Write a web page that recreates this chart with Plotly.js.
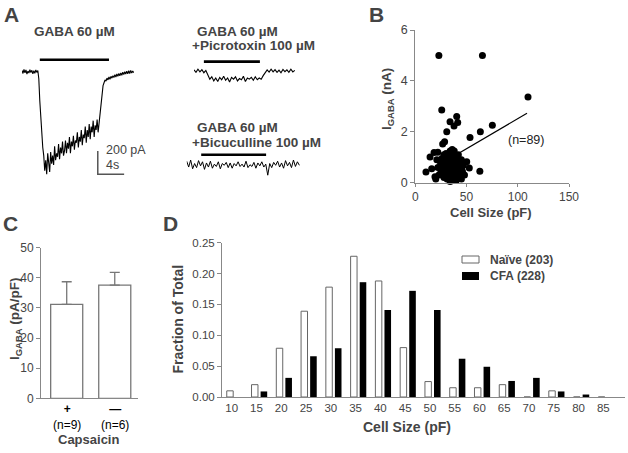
<!DOCTYPE html>
<html><head><meta charset="utf-8">
<script src="https://cdn.plot.ly/plotly-3.0.1.min.js"></script>
<style>html,body{margin:0;padding:0;background:#fff}#chart{width:628px;height:453px}</style>
</head><body><div id="chart"></div>
<script>
// ---------- DATA ----------
// Panel A: current traces (pA), sampled at fixed time steps (s)
const gabaDt = 0.15;
const gabaTrace = [10,-15,20,-10,15,-20,5,-12,18,-8,12,-18,8,-14,16,-6,10,
  -60,-250,-420,-560,-650,
  -720,-850,-760,-880,-700,-820,-860,-690,-790,-720,-800,-640,-760,-700,-730,-620,-750,-650,-700,-600,
  -720,-680,-590,-700,-610,-660,-560,-700,-600,-640,-550,-670,-590,-610,-520,-650,-560,-600,-500,-630,
  -540,-570,-470,-610,-500,-560,-450,-580,-470,-520,-420,-560,-460,-500,-410,-520,-430,
  -330,-240,-170,-120,-95,-70,-80,-55,-70,-45,-65,-40,-55,-35,-50,-25,-45,-20,-40,-15,-35,-10,-30,-5,-25,0,-20,5,-18,8,-15,10,-12,5,-8];
const picroDt = 0.3;
const picroTrace = [10,-12,15,-8,12,-15,5,-40,-70,
  -50,-85,-60,-90,-55,-75,-45,-80,-60,-95,-55,-70,-50,-85,-65,-75,-45,-90,-60,-70,-55,-80,-50,-75,-60,-70,
  -40,-15,10,-10,15,-8,12,-12,8,-15,14,-6,10,-12,15,-8,5];
const bicuDt = 0.3;
const bicuTrace = [30,-20,40,-35,10,-25,35,-10,25,-40,15,-20,30,-30,5,-15,25,-35,10,-5,20,-25,15,-30,10,-10,25,-15,5,-20,30,-25,0,-15,20,-30,15,-10,25,-20,5,-90,10,-25,20,-5,30,-20,15,-30,35,-10,20,-25,40,-15,25,-5];
const gabaOn  = [2.7, 1.5, 2.2];   // application start (s) for the three recordings
const gabaOff = [13.2, 10.0, 12.05];
const scaleBarPA = 200, scaleBarS = 4;

// Panel B: cell size (pF) vs I_GABA (nA)
const cellSize = [23,65.5,110,25.8,40.4,33.9,41.4,37.8,30.7,75.2,63.5,53.4,28.6,26.7,63,18.3,14.4,10.4,19.2,50.2,52.7,
  20,22,22,24,25,26,26,27,28,28,29,30,30,31,31,32,32,33,33,34,34,35,35,35,36,36,36,37,37,38,38,38,39,39,40,40,41,41,42,42,43,43,44,45,45,46,47,48,
  34,30,23,27,37,40,33,36,44,29,39,35,31,42,38,46,25,21,16,36];
const iGaba = [5.0,5.0,3.37,2.86,2.6,2.39,2.37,2.23,2.0,2.26,2.0,1.78,1.61,1.52,0.45,1.19,1.01,0.42,0.23,0.82,0.58,
  0.15,0.6,1.2,0.85,0.4,0.3,0.95,0.7,0.2,1.1,0.5,0.8,0.35,0.15,0.6,1.0,0.4,0.25,0.75,1.25,0.55,0.1,0.9,0.45,0.3,0.7,1.1,0.2,0.55,0.85,0.35,1.25,0.6,0.15,0.95,0.4,0.7,0.25,1.1,0.5,0.8,0.3,0.6,0.15,0.9,0.45,0.7,0.3,
  0.05,1.15,0.3,0.5,0.95,0.1,0.65,0.5,0.35,0.9,1.05,0.3,0.85,0.2,0.5,0.65,0.7,0.9,0.55,1.3];
const fitX = [15, 109];
const fitY = [0.51, 2.73];
const nLabelB = "(n=89)";

// Panel C
const capsLabels = ["+", "—"];
const capsN = ["(n=9)", "(n=6)"];
const capsMean = [31.2, 37.6];
const capsSEM = [7.5, 4.2];

// Panel D
const sizeBins = [10,15,20,25,30,35,40,45,50,55,60,65,70,75,80,85];
const naive = [0.010,0.020,0.079,0.139,0.178,0.228,0.188,0.080,0.025,0.015,0.015,0.020,0,0.010,0,0];
const cfa   = [0,0.009,0.031,0.066,0.079,0.186,0.141,0.172,0.141,0.062,0.049,0.026,0.031,0.009,0.004,0];
const seriesNames = ["Naïve (203)", "CFA (228)"];

// ---------- LAYOUT HELPERS ----------
const W = 628, H = 453;
const dx = (a, b) => [a / W, b / W];
const dy = (t, b) => [1 - b / H, 1 - t / H];
const FONT = 'Arial, "Liberation Sans", sans-serif';
const AX = '#888', TICK = '#444';
const times = (arr, dt) => arr.map((_, i) => +(i * dt).toFixed(3));

const baseAxis = {showgrid:false, zeroline:false, showline:true, linecolor:AX, linewidth:1,
  ticks:'outside', ticklen:4, tickcolor:AX, tickfont:{family:FONT, size:12, color:TICK}, fixedrange:true};
const hidden = {visible:false, showgrid:false, zeroline:false, fixedrange:true};

const traces = [];
// Panel A traces
traces.push({x:times(gabaTrace,gabaDt), y:gabaTrace, xaxis:'x4', yaxis:'y4', mode:'lines', line:{color:'#000', width:1.1}, hoverinfo:'skip'});
traces.push({x:times(picroTrace,picroDt), y:picroTrace, xaxis:'x5', yaxis:'y5', mode:'lines', line:{color:'#000', width:1.1}, hoverinfo:'skip'});
traces.push({x:times(bicuTrace,bicuDt), y:bicuTrace, xaxis:'x6', yaxis:'y6', mode:'lines', line:{color:'#000', width:1}, hoverinfo:'skip'});
// scale bar (drawn in trace-1 units)
const sbT0 = 11.5, sbI0 = -880;
traces.push({x:[sbT0, sbT0, sbT0 + scaleBarS], y:[sbI0 + scaleBarPA, sbI0, sbI0], xaxis:'x4', yaxis:'y4', mode:'lines', line:{color:'#555', width:1.5}, hoverinfo:'skip'});

// Panel B
traces.push({x:cellSize, y:iGaba, xaxis:'x', yaxis:'y', mode:'markers', marker:{color:'#000', size:7}, cliponaxis:false});
traces.push({x:fitX, y:fitY, xaxis:'x', yaxis:'y', mode:'lines', line:{color:'#000', width:1.2}});

// Panel C
traces.push({type:'bar', x:[0,1], y:capsMean, xaxis:'x2', yaxis:'y2', width:0.667,
  marker:{color:'#fff', line:{color:'#777', width:1.3}},
  error_y:{type:'data', symmetric:false, array:capsSEM, arrayminus:[0,0], color:'#777', thickness:1.3, width:5}});

// Panel D
traces.push({type:'bar', name:seriesNames[0], x:sizeBins, y:naive, xaxis:'x3', yaxis:'y3', width:1.3, offset:-1.0,
  marker:{color:'#fff', line:{color:'#666', width:1}}});
traces.push({type:'bar', name:seriesNames[1], x:sizeBins, y:cfa, xaxis:'x3', yaxis:'y3', width:1.33, offset:0.83,
  marker:{color:'#000', line:{color:'#000', width:0}}});

const ann = (text, x, y, o = {}) => Object.assign({text, x:x / W, y:1 - y / H, xref:'paper', yref:'paper', showarrow:false,
  xanchor:'center', yanchor:'middle', font:{family:FONT, size:12, color:'#000'}}, o);
const bold = (s) => '<b>' + s + '</b>';

const annotations = [
  ann(bold('A'), 11, 15, {font:{family:FONT, size:21}}),
  ann(bold('B'), 376, 15, {font:{family:FONT, size:21}}),
  ann(bold('C'), 10, 223, {font:{family:FONT, size:21}}),
  ann(bold('D'), 170, 223, {font:{family:FONT, size:21}}),
  ann(bold('GABA 60 µM'), 74, 31, {font:{family:FONT, size:13.5}}),
  ann(bold('GABA 60 µM'), 195, 31, {xanchor:'left', font:{family:FONT, size:13.5}}),
  ann(bold('+Picrotoxin 100 µM'), 190, 46, {xanchor:'left', font:{family:FONT, size:13.5}}),
  ann(bold('GABA 60 µM'), 195, 127, {xanchor:'left', font:{family:FONT, size:13.5}}),
  ann(bold('+Bicuculline 100 µM'), 190, 142, {xanchor:'left', font:{family:FONT, size:13.5}}),
  ann(scaleBarPA + ' pA', 104, 150, {xanchor:'left', font:{family:FONT, size:12.5, color:'#444'}}),
  ann(scaleBarS + 's', 104, 165, {xanchor:'left', font:{family:FONT, size:12.5, color:'#444'}}),
  // B titles
  ann(bold('I<sub>GABA</sub> (nA)'), 387, 99, {textangle:-90, font:{family:FONT, size:13.5}}),
  ann(bold('Cell Size (pF)'), 491, 212.5, {font:{family:FONT, size:13}}),
  ann(nLabelB, 526, 140, {font:{family:FONT, size:12.5, color:'#222'}}),
  // C titles
  ann(bold('I<sub>GABA</sub> (pA/pF)'), 15, 319, {textangle:-90, font:{family:FONT, size:13.5}}),
  ann(bold('Capsaicin'), 88, 439, {font:{family:FONT, size:13}}),
  // D titles & legend
  ann(bold('Fraction of Total'), 177, 319.5, {textangle:-90, font:{family:FONT, size:14}}),
  ann(bold('Cell Size (pF)'), 407, 427, {font:{family:FONT, size:14}}),
  ann(bold(seriesNames[0]), 488, 259.5, {xanchor:'left', font:{family:FONT, size:12}}),
  ann(bold(seriesNames[1]), 488, 276, {xanchor:'left', font:{family:FONT, size:12}})
];
// category labels (sign + n) under C bars, one text block per category
capsN.forEach((t, i) => annotations.push({text:'<b>' + capsLabels[i] + '</b><br>' + t, x:i, xref:'x2', y:1 - 401 / H, yref:'paper',
  showarrow:false, xanchor:'center', yanchor:'top', align:'center', borderpad:0, font:{family:FONT, size:12, color:'#000'}}));

const shapes = [];
// GABA application bars
const barLevels = [103, 80, 86];
['4','5','6'].forEach((k, i) => shapes.push({type:'line', xref:'x' + k, yref:'y' + k, x0:gabaOn[i], x1:gabaOff[i],
  y0:barLevels[i], y1:barLevels[i], line:{color:'#000', width:2.6}}));
// legend swatches
shapes.push({type:'rect', xref:'paper', yref:'paper', x0:462 / W, x1:479 / W, y0:1 - 263 / H, y1:1 - 256 / H, fillcolor:'#fff', line:{color:'#666', width:1}});
shapes.push({type:'rect', xref:'paper', yref:'paper', x0:462 / W, x1:479 / W, y0:1 - 280 / H, y1:1 - 272 / H, fillcolor:'#000', line:{color:'#000', width:0}});

const layout = {
  width:W, height:H, margin:{l:0, r:0, t:0, b:0}, paper_bgcolor:'#fff', plot_bgcolor:'rgba(0,0,0,0)',
  showlegend:false, barmode:'overlay', font:{family:FONT},
  // B
  xaxis:Object.assign({}, baseAxis, {domain:dx(415.3, 569), anchor:'y', range:[0,150], tickvals:[0,50,100,150], ticklen:3,
    tickfont:{family:FONT, size:12, color:TICK}}),
  yaxis:Object.assign({}, baseAxis, {domain:dy(30, 182.7), anchor:'x', range:[0,6], tickvals:[0,2,4,6], tickfont:{family:FONT, size:12.5, color:TICK}}),
  // C
  xaxis2:Object.assign({}, baseAxis, {domain:dx(41, 138.3), anchor:'y2', range:[-0.535, 1.49], ticks:'', showticklabels:false}),
  yaxis2:Object.assign({}, baseAxis, {domain:dy(247.7, 398.3), anchor:'x2', range:[0,50], tickvals:[0,10,20,30,40,50]}),
  // D
  xaxis3:Object.assign({}, baseAxis, {domain:dx(222, 625), anchor:'y3', range:[8.04, 89.38], ticks:'', tickvals:sizeBins,
    tickfont:{family:FONT, size:11.5, color:TICK}}),
  yaxis3:Object.assign({}, baseAxis, {domain:dy(242.7, 397), anchor:'x3', range:[0,0.25], tickvals:[0,0.05,0.1,0.15,0.2,0.25],
    tickformat:'.2f', tickfont:{family:FONT, size:11.5, color:TICK}}),
  // A traces
  xaxis4:Object.assign({}, hidden, {domain:dx(22, 136), anchor:'y4', range:[0, 17.3]}),
  yaxis4:Object.assign({}, hidden, {domain:dy(40, 185), anchor:'x4', range:[-972, 272]}),
  xaxis5:Object.assign({}, hidden, {domain:dx(194, 308), anchor:'y5', range:[0, 17.3]}),
  yaxis5:Object.assign({}, hidden, {domain:dy(50, 95), anchor:'x5', range:[-206, 180]}),
  xaxis6:Object.assign({}, hidden, {domain:dx(186.7, 300.7), anchor:'y6', range:[0, 17.3]}),
  yaxis6:Object.assign({}, hidden, {domain:dy(145, 185), anchor:'x6', range:[-174, 169]}),
  annotations, shapes
};

Plotly.newPlot('chart', traces, layout, {staticPlot:true, displayModeBar:false});
</script></body></html>
